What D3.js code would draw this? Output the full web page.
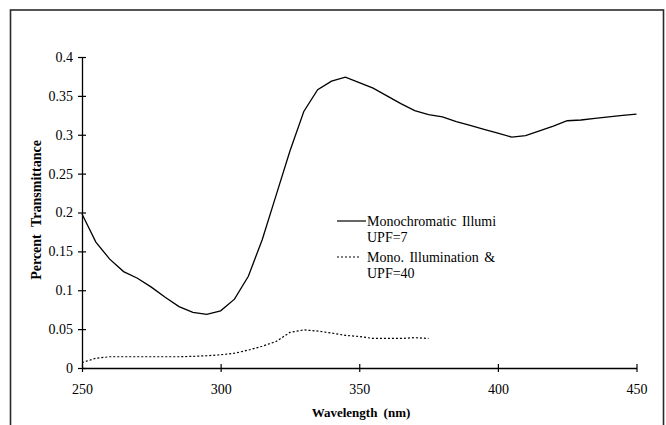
<html>
  <meta charset="utf-8" />
  <script src="https://d3js.org/d3.v7.min.js"></script>
  <body style="margin:0;background:#fff">
    <svg width="666" height="425" id="svg_line"></svg>
  </body>

  <script>
    // wavelength (nm) and percent transmittance
    const monoWave = [250, 255, 260, 265, 270, 275, 280, 285, 290, 295, 300,
      305, 310, 315, 320, 325, 330, 335, 340, 345, 350, 355, 360, 365, 370,
      375, 380, 385, 390, 395, 400, 405, 410, 415, 420, 425, 430, 435, 440,
      445, 450];
    const monoUpf7 = [0.198, 0.162, 0.14, 0.124, 0.1155, 0.104, 0.091, 0.079,
      0.0715, 0.069, 0.0735, 0.0885, 0.118, 0.165, 0.222, 0.279, 0.33, 0.358,
      0.369, 0.374, 0.367, 0.36, 0.35, 0.34, 0.331, 0.326, 0.323, 0.317,
      0.312, 0.307, 0.302, 0.297, 0.299, 0.305, 0.311, 0.318, 0.319, 0.321,
      0.323, 0.325, 0.3265];

    const upf40Wave = [250, 255, 260, 265, 270, 275, 280, 285, 290, 295, 300,
      305, 310, 315, 320, 325, 330, 335, 340, 345, 350, 355, 360, 365, 370,
      375];
    const upf40 = [0.007, 0.0125, 0.0145, 0.0145, 0.0145, 0.0145, 0.0145,
      0.0145, 0.015, 0.0158, 0.017, 0.019, 0.023, 0.028, 0.034, 0.0458, 0.049,
      0.0475, 0.045, 0.042, 0.0405, 0.038, 0.038, 0.038, 0.039, 0.038];

    const xTicks = [250, 300, 350, 400, 450];
    const yTicks = [0, 0.05, 0.1, 0.15, 0.2, 0.25, 0.3, 0.35, 0.4];

    const seriesNames = [["Monochromatic Illumi", "UPF=7"],
      ["Mono. Illumination &", "UPF=40"]];

    const serif = "'Liberation Serif', 'Times New Roman', Times, 'DejaVu Serif', serif";

    function lineChart() {
      const svg = d3.select("svg");

      // outer frame (bottom edge runs off the picture)
      svg.append("rect")
        .attr("x", 10.5).attr("y", 10).attr("width", 653).attr("height", 440)
        .attr("fill", "none").attr("stroke", "#2a2a2a").attr("stroke-width", 1.6);

      const xScale = d3.scaleLinear().domain([250, 450]).range([82, 636.5]);
      const yScale = d3.scaleLinear().domain([0, 0.4]).range([368, 57]);

      const yAxis = svg.append("g")
        .attr("transform", `translate(${xScale(250)},0)`)
        .call(d3.axisLeft(yScale).tickValues(yTicks).tickFormat((d) => String(d))
          .tickSize(4).tickPadding(5).tickSizeOuter(0));
      yAxis.selectAll(".tick line").attr("x1", 4);

      const xAxis = svg.append("g")
        .attr("transform", `translate(0,${yScale(0)})`)
        .call(d3.axisBottom(xScale).tickValues(xTicks)
          .tickSize(4).tickPadding(12).tickSizeOuter(0));
      xAxis.selectAll(".tick line").attr("y1", -4);

      svg.selectAll(".tick text")
        .attr("font-family", serif).style("font-family", serif)
        .attr("font-size", 14).attr("fill", "#000");
      svg.selectAll(".domain").attr("stroke", "#000").attr("stroke-width", 1.3);
      svg.selectAll(".tick line").attr("stroke", "#000").attr("stroke-width", 1.2);

      const line = d3.line()
        .x((d) => xScale(d[0]))
        .y((d) => yScale(d[1]));

      svg.append("path")
        .datum(monoWave.map((w, i) => [w, monoUpf7[i]]))
        .attr("d", line)
        .attr("fill", "none").attr("stroke", "#000").attr("stroke-width", 1.3);

      svg.append("path")
        .datum(upf40Wave.map((w, i) => [w, upf40[i]]))
        .attr("d", line)
        .attr("fill", "none").attr("stroke", "#000").attr("stroke-width", 1.2)
        .attr("stroke-dasharray", "2,2");

      // legend
      const legend = svg.append("g")
        .style("font-family", serif).style("font-size", "14px")
        .style("word-spacing", "2px");
      const dash = [null, "2,2"];
      seriesNames.forEach((names, i) => {
        const y0 = 221 + i * 36;
        legend.append("line")
          .attr("x1", 337).attr("x2", i ? 360 : 366)
          .attr("y1", y0).attr("y2", y0)
          .attr("stroke", "#000").attr("stroke-width", 1.2)
          .attr("stroke-dasharray", dash[i]);
        names.forEach((t, j) => {
          legend.append("text")
            .attr("x", 367).attr("y", y0 + 5 + j * 15.5)
            .text(t);
        });
      });

      svg.append("text")
        .attr("x", 361).attr("y", 417)
        .attr("text-anchor", "middle")
        .style("font-family", serif).style("font-size", "13px")
        .style("font-weight", "bold").style("word-spacing", "3px")
        .text("Wavelength (nm)");

      svg.append("text")
        .attr("transform", "translate(41,210) rotate(-90)")
        .attr("text-anchor", "middle")
        .style("font-family", serif).style("font-size", "14px")
        .style("font-weight", "bold").style("word-spacing", "4px")
        .text("Percent Transmittance");
    }

    lineChart();
  </script>
</html>
